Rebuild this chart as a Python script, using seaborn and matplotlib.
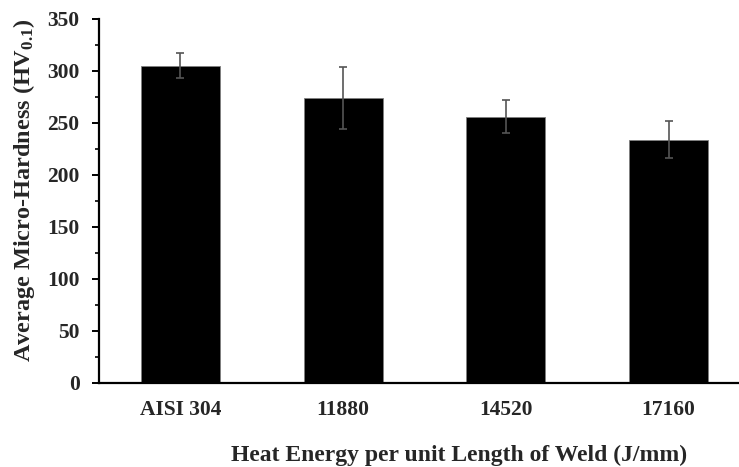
import matplotlib
matplotlib.use("Agg")
import matplotlib.pyplot as plt
import seaborn as sns
import pandas as pd
from matplotlib.ticker import MultipleLocator

categories = ["AISI 304", "11880", "14520", "17160"]
hardness = [305, 274, 256, 234]
errors = [12, 30, 16, 17.5]
y_ticks = [0, 50, 100, 150, 200, 250, 300, 350]

sns.set_theme(style="white")
plt.rcParams["font.family"] = ["Liberation Serif", "DejaVu Serif"]
plt.rcParams["font.weight"] = "bold"
plt.rcParams["mathtext.fontset"] = "custom"
plt.rcParams["mathtext.rm"] = "Liberation Serif:bold"
plt.rcParams["mathtext.it"] = "Liberation Serif:bold"
plt.rcParams["mathtext.bf"] = "Liberation Serif:bold"

W, H = 739, 467
fig = plt.figure(figsize=(W / 100, H / 100), dpi=100)
left, right, top, bottom = 99, 750, 19, 383
ax = fig.add_axes([left / W, 1 - bottom / H, (right - left) / W, (bottom - top) / H])

df = pd.DataFrame({"cat": categories, "val": hardness})
sns.barplot(data=df, x="cat", y="val", ax=ax, color="black", width=0.485,
            edgecolor="#7f7f7f", linewidth=0.6, saturation=1, errorbar=None)
ax.errorbar(range(len(categories)), hardness, yerr=errors, fmt="none",
            ecolor="#555555", elinewidth=1.2, capsize=3.2, capthick=1.2)

ax.set_xlim(-0.5, 3.5)
ax.set_ylim(0, 350)
ax.set_yticks(y_ticks)
ax.yaxis.set_minor_locator(MultipleLocator(25))
ax.set_xlabel("")
ax.set_ylabel("")

for s in ["top", "right"]:
    ax.spines[s].set_visible(False)
for s in ["left", "bottom"]:
    ax.spines[s].set_color("black")
    ax.spines[s].set_linewidth(1.6)

ax.tick_params(axis="y", which="major", direction="out", length=5, width=1.4,
               color="black", pad=9, labelsize=15.5, left=True)
ax.tick_params(axis="y", which="minor", direction="out", length=3, width=1.2,
               color="black", left=True)
ax.tick_params(axis="x", which="both", length=0, pad=12, labelsize=15.5)
for lab in ax.get_xticklabels() + ax.get_yticklabels():
    lab.set_fontweight("bold")

fig.text(24 / W, 1 - 190 / H, "Average Micro-Hardness (HV$_{0.1}$)", rotation=90,
         ha="center", va="center", fontsize=17.5, fontweight="bold")
fig.text(459 / W, 1 - 455 / H, "Heat Energy per unit Length of Weld (J/mm)",
         ha="center", va="center", fontsize=17, fontweight="bold")

fig.savefig("out.png", dpi=100, facecolor="white")
